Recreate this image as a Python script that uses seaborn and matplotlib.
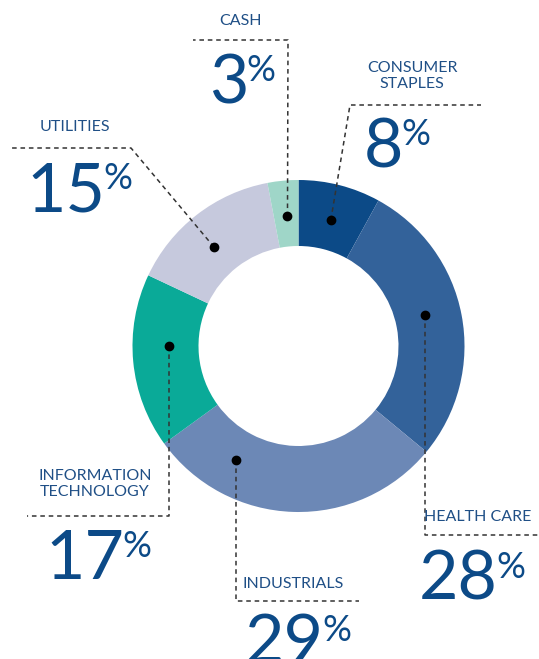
"""
Donut chart: sector allocation with dotted leader lines.
"""

import matplotlib
matplotlib.use("Agg")
import numpy as np
import matplotlib.pyplot as plt
import seaborn as sns

sns.set_theme(style="white")
plt.rcParams["font.family"] = ["Lato", "DejaVu Sans"]

# data, clockwise from 12 o'clock
SECTORS = ["CONSUMER\nSTAPLES", "HEALTH CARE", "INDUSTRIALS",
           "INFORMATION\nTECHNOLOGY", "UTILITIES", "CASH"]
WEIGHTS = [8, 28, 29, 17, 15, 3]
NUMBERS = ["8", "28", "29", "17", "15", "3"]
COLORS = ["#0c4a87", "#33629a", "#6c88b6", "#0aaa98", "#c6c9dd", "#9fd6c8"]

TEXT_COLOR = "#0c4a87"
LINE_COLOR = "#333333"

# layout in pixel space (y grows downwards)
W, H = 539, 659
CX, CY, R_OUT, R_IN = 298.5, 346, 166, 100
DOT_R = 130
# where inside each wedge the leader dot sits (0 = start, 1 = end)
DOT_POS = [0.5, 0.47, 0.76, 0.59, 0.45, 0.55]
# leader elbow (x or None = straight from the dot), elbow y, end x
ELBOWS = [(350, 105, 481), (None, 535, 539), (None, 601, 359),
          (None, 516, 27), (131, 148, 12), (288, 40, 193)]
LABEL_XY = [(412, 76), (478, 517), (293, 584), (95, 484), (75, 127), (240, 21)]
# split x between number and "%", baseline of the number
NUM_XY = [(402, 167), (497, 600), (323, 663), (123, 579), (104, 211), (247, 103)]

fig = plt.figure(figsize=(W / 100, H / 100), dpi=100)
ax = fig.add_axes([0, 0, 1, 1])

wedges, _ = ax.pie(WEIGHTS, colors=COLORS, startangle=-90, counterclock=True,
                   center=(CX, CY), radius=R_OUT,
                   wedgeprops=dict(width=R_OUT - R_IN, linewidth=0))
ax.set_xlim(0, W)
ax.set_ylim(H, 0)
ax.set_aspect("equal")
ax.axis("off")

for i, w in enumerate(wedges):
    ang = np.deg2rad(w.theta1 + DOT_POS[i] * (w.theta2 - w.theta1))
    dx, dy = CX + DOT_R * np.cos(ang), CY + DOT_R * np.sin(ang)
    ex, ey, end_x = ELBOWS[i]
    if ex is None:
        ex = dx
    ax.plot([dx, ex, end_x], [dy, ey, ey], color=LINE_COLOR, lw=1.1,
            ls=(0, (3, 2.5)), zorder=3, clip_on=False)
    ax.scatter([dx], [dy], s=36, color="black", zorder=4)

    lx, ly = LABEL_XY[i]
    ax.text(lx, ly, SECTORS[i], ha="center", va="center", fontsize=11.5,
            color="#1f4f86", linespacing=1.22)

    nx, ny = NUM_XY[i]
    ax.text(nx + 1, ny, NUMBERS[i], ha="right", va="baseline", fontsize=49,
            color=TEXT_COLOR)
    ax.text(nx - 1, ny - 22, "%", ha="left", va="baseline", fontsize=26,
            color=TEXT_COLOR)

fig.savefig("out.png", dpi=100, facecolor="white")
plt.close()
